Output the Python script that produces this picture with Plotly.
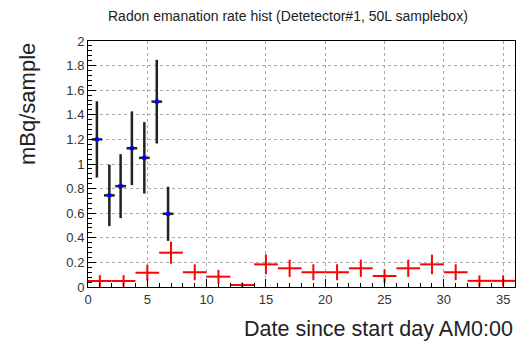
import plotly.graph_objects as go

# Detector #1 (blue points, black error bars)
blue_x = [0.75, 1.8, 2.75, 3.7, 4.75, 5.8, 6.75]
blue_y = [1.20, 0.745, 0.82, 1.128, 1.05, 1.507, 0.595]
blue_err = [0.31, 0.25, 0.26, 0.30, 0.29, 0.34, 0.22]
blue_xerr = [0.45] * 7

# Red histogram points (2-day bins)
red_x = [1, 3, 5, 7, 9, 11, 13, 15, 17, 19, 21, 23, 25, 27, 29, 31, 33, 35]
red_y = [0.049, 0.049, 0.116, 0.279, 0.12, 0.084, 0.016, 0.184, 0.152, 0.12,
         0.12, 0.152, 0.089, 0.152, 0.184, 0.12, 0.05, 0.05]
red_err = [0.047, 0.047, 0.065, 0.09, 0.065, 0.055, 0.02, 0.08, 0.07, 0.065,
           0.065, 0.07, 0.055, 0.07, 0.08, 0.065, 0.045, 0.045]
red_xerr = [1.0] * 18

title_text = "Radon emanation rate hist (Detetector#1, 50L samplebox)"
x_title = "Date since start day AM0:00"
y_title = "mBq/sample"

FONT = "Liberation Sans, Arial, sans-serif"

fig = go.Figure()
fig.add_trace(go.Scatter(
    x=red_x, y=red_y, mode="markers",
    marker=dict(size=1, color="#ff0000"),
    error_x=dict(type="data", array=red_xerr, color="#ff0000", thickness=2, width=0),
    error_y=dict(type="data", array=red_err, color="#ff0000", thickness=2, width=0),
    showlegend=False, hoverinfo="skip"))
fig.add_trace(go.Scatter(
    x=blue_x, y=blue_y, mode="markers",
    marker=dict(size=4, color="#0000ff", symbol="square"),
    error_x=dict(type="data", array=blue_xerr, color="#222222", thickness=2.5, width=0),
    error_y=dict(type="data", array=blue_err, color="#222222", thickness=2.5, width=0),
    showlegend=False, hoverinfo="skip"))

axis_common = dict(
    showline=True, linecolor="black", linewidth=1, mirror=True,
    ticks="inside", ticklen=8, tickcolor="black", tickwidth=1,
    showgrid=True, gridcolor="#aaaaaa", griddash="dot", gridwidth=1,
    zeroline=False,
    tickfont=dict(family=FONT, size=13, color="#333333"),
)

fig.update_layout(
    width=519, height=347,
    margin=dict(l=88, r=4, t=41, b=60),
    paper_bgcolor="white", plot_bgcolor="white",
    font=dict(family=FONT),
    xaxis=dict(range=[0, 36], dtick=5, tick0=0,
               minor=dict(dtick=1, ticks="inside", ticklen=4, tickcolor="black", showgrid=False),
               **axis_common),
    yaxis=dict(range=[0, 2], dtick=0.2, tick0=0,
               minor=dict(dtick=0.04, ticks="inside", ticklen=4, tickcolor="black", showgrid=False),
               **axis_common),
    annotations=[
        dict(text=title_text, xref="paper", yref="paper", x=(288 - 88) / 427, y=1 + 25 / 246,
             xanchor="center", yanchor="middle", showarrow=False,
             font=dict(family=FONT, size=14, color="#222222")),
        dict(text=x_title, xref="paper", yref="paper", x=1.0, y=-42 / 246,
             xanchor="right", yanchor="middle", showarrow=False,
             font=dict(family=FONT, size=21.5, color="#222222")),
        dict(text=y_title, xref="paper", yref="paper", x=(27 - 88) / 427, y=1.0,
             xanchor="center", yanchor="top", textangle=-90, showarrow=False,
             font=dict(family=FONT, size=22, color="#222222")),
    ],
)

fig.write_html("out.html", config={"displayModeBar": False},
               post_script="document.body.style.margin='0';")
